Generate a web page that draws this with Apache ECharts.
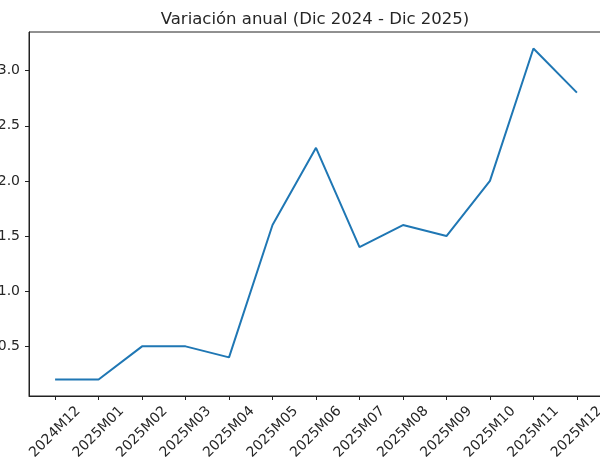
<!DOCTYPE html>
<html><head><meta charset="utf-8">
<script src="https://cdn.jsdelivr.net/npm/echarts@6/dist/echarts.min.js"></script>
<style>html,body{margin:0;padding:0;background:#fff}#c{width:600px;height:470px}</style>
</head><body><div id="c"></div>
<script>
const categories = ["2024M12","2025M01","2025M02","2025M03","2025M04","2025M05","2025M06","2025M07","2025M08","2025M09","2025M10","2025M11","2025M12"];
const values = [0.2,0.2,0.5,0.5,0.4,1.6,2.3,1.4,1.6,1.5,2.0,3.2,2.8];
const yTicks = [0.5,1.0,1.5,2.0,2.5,3.0];
const titleText = "Variación anual (Dic 2024 - Dic 2025)";

const idx = categories.map((_, i) => i);
const font = "DejaVu Sans";
const chart = echarts.init(document.getElementById('c'), null, {renderer: 'canvas'});
chart.setOption({
  animation: false,
  backgroundColor: '#fff',
  title: {
    text: titleText, left: 310, top: 6, textAlign: 'center',
    textStyle: {fontFamily: font, fontSize: 16.5, fontWeight: 'normal', color: '#262626'}
  },
  grid: {left: 29, top: 32, width: 574, height: 364, containLabel: false, outerBoundsMode: 'none',
         show: true, borderColor: '#222', borderWidth: 1, backgroundColor: 'transparent'},
  xAxis: {
    type: 'value', min: -0.6, max: 12.6,
    axisLine: {show: true, onZero: false, lineStyle: {color: '#222', width: 1}},
    axisTick: {show: true, length: 4, customValues: idx, lineStyle: {color: '#222'}},
    splitLine: {show: false},
    axisLabel: {
      customValues: idx, rotate: 45, align: 'center', verticalAlign: 'middle', margin: 36,
      fontFamily: font, fontSize: 14, color: '#262626',
      formatter: v => categories[Math.round(v)]
    }
  },
  yAxis: {
    type: 'value', min: 0.05, max: 3.35,
    axisLine: {show: true, onZero: false, lineStyle: {color: '#222', width: 1}},
    axisTick: {show: true, length: 4, customValues: yTicks, lineStyle: {color: '#222'}},
    splitLine: {show: false},
    axisLabel: {
      customValues: yTicks, margin: 9, fontFamily: font, fontSize: 14, color: '#262626',
      formatter: v => v.toFixed(1)
    }
  },
  series: [{
    type: 'line', data: values.map((v, i) => [i, v]), showSymbol: false,
    lineStyle: {color: '#1f77b4', width: 2}, clip: false
  }]
});
</script></body></html>
